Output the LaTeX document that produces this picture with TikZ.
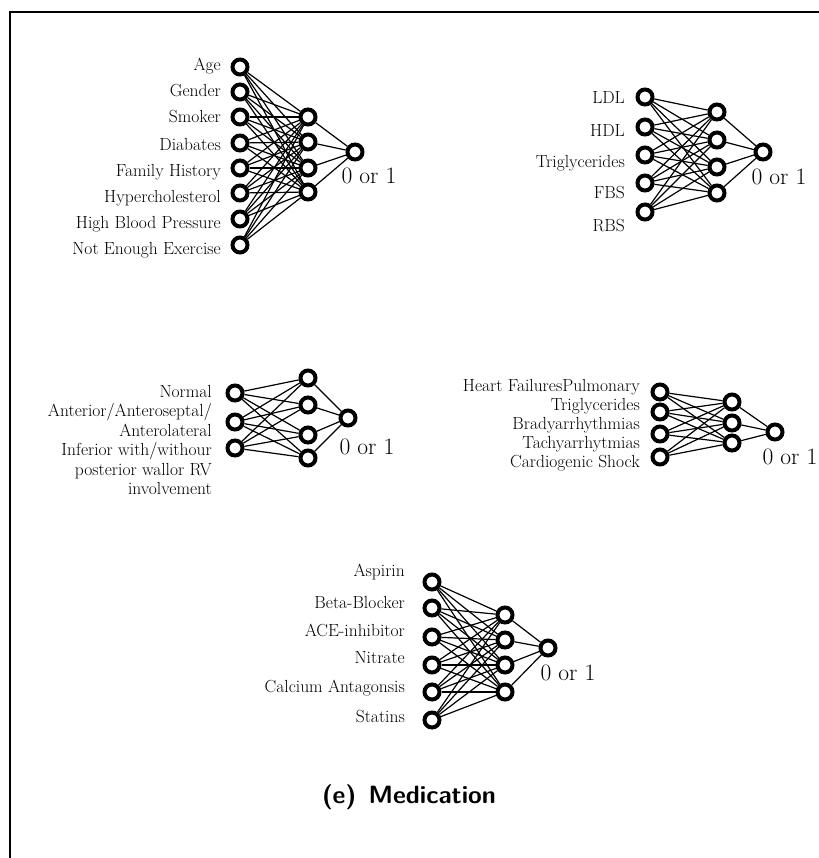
\documentclass[tikz,border=0pt]{standalone}
\usepackage{tikz}
\tikzset{
neuron/.style={circle, draw, line width=4bp, minimum size=15bp, inner sep=0pt, fill=white},
txt/.style={rectangle, draw=none, inner sep=0pt, anchor=east, align=right, font=\fontsize{17.5bp}{19.5bp}\selectfont},
outlbl/.style={rectangle, draw=none, inner sep=0pt, font=\fontsize{23.5bp}{26bp}\selectfont},
wire/.style={line width=1.2bp}
}

\begin{document}
\begin{tikzpicture}[x=1bp, y=-1bp]
\useasboundingbox (0,0) rectangle (819,858);
\draw [line width=2.5bp] (10,858) -- (10,12) -- (819,12);

% risk factors
\node [neuron] (RF1) at (240,67) {};
\node [neuron] (RF2) at (240,92) {};
\node [neuron] (RF3) at (240,117) {};
\node [neuron] (RF4) at (240,143) {};
\node [neuron] (RF5) at (240,168) {};
\node [neuron] (RF6) at (240,193) {};
\node [neuron] (RF7) at (240,219) {};
\node [neuron] (RF8) at (240,245) {};
\node [neuron] (RFH1) at (308,117) {};
\node [neuron] (RFH2) at (308,142) {};
\node [neuron] (RFH3) at (308,168) {};
\node [neuron] (RFH4) at (308,192) {};
\node [neuron] (RFO) at (355,152) {};
\node [txt] (RFL1) at (221,66) {Age};
\node [txt] (RFL2) at (221,91) {Gender};
\node [txt] (RFL3) at (221,117) {Smoker};
\node [txt] (RFL4) at (221,144) {Diabates};
\node [txt] (RFL5) at (221,172) {Family History};
\node [txt] (RFL6) at (221,198) {Hypercholesterol};
\node [txt] (RFL7) at (221,224) {High Blood Pressure};
\node [txt] (RFL8) at (221,250) {Not Enough Exercise};
\node [outlbl] (RFY) at (369,176) {0 or 1};
\foreach \i in {1,...,8} \foreach \j in {1,...,4} \draw [wire] (RF\i) -- (RFH\j);
\foreach \j in {1,...,4} \draw [wire] (RFH\j) -- (RFO);

% lab tests
\node [neuron] (LAB1) at (645,97) {};
\node [neuron] (LAB2) at (645,127) {};
\node [neuron] (LAB3) at (645,155) {};
\node [neuron] (LAB4) at (645,183) {};
\node [neuron] (LAB5) at (645,212) {};
\node [neuron] (LABH1) at (717,112) {};
\node [neuron] (LABH2) at (717,140) {};
\node [neuron] (LABH3) at (717,167) {};
\node [neuron] (LABH4) at (717,193) {};
\node [neuron] (LABO) at (763,152) {};
\node [txt] (LABL1) at (625,98) {LDL};
\node [txt] (LABL2) at (625,131) {HDL};
\node [txt] (LABL3) at (625,163) {Triglycerides};
\node [txt] (LABL4) at (625,193) {FBS};
\node [txt] (LABL5) at (625,226) {RBS};
\node [outlbl] (LABY) at (779,177) {0 or 1};
\foreach \i in {1,...,5} \foreach \j in {1,...,4} \draw [wire] (LAB\i) -- (LABH\j);
\foreach \j in {1,...,4} \draw [wire] (LABH\j) -- (LABO);

% ecg
\node [neuron] (ECG1) at (235,393) {};
\node [neuron] (ECG2) at (235,422) {};
\node [neuron] (ECG3) at (235,448) {};
\node [neuron] (ECGH1) at (308,378) {};
\node [neuron] (ECGH2) at (308,405) {};
\node [neuron] (ECGH3) at (308,435) {};
\node [neuron] (ECGH4) at (308,458) {};
\node [neuron] (ECGO) at (348,418) {};
\node [txt] (ECGL) at (212,440) {Normal\\Anterior/Anteroseptal/\\Anterolateral\\Inferior with/withour\\posterior wallor RV\\involvement};
\node [outlbl] (ECGY) at (367,447) {0 or 1};
\foreach \i in {1,...,3} \foreach \j in {1,...,4} \draw [wire] (ECG\i) -- (ECGH\j);
\foreach \j in {1,...,4} \draw [wire] (ECGH\j) -- (ECGO);

% complications
\node [neuron] (CMP1) at (660,392) {};
\node [neuron] (CMP2) at (660,412) {};
\node [neuron] (CMP3) at (660,434) {};
\node [neuron] (CMP4) at (660,457) {};
\node [neuron] (CMPH1) at (732,402) {};
\node [neuron] (CMPH2) at (732,423) {};
\node [neuron] (CMPH3) at (732,443) {};
\node [neuron] (CMPO) at (775,432) {};
\node [txt, font=\fontsize{17.5bp}{19bp}\selectfont] (CMPL) at (640,425) {Heart FailuresPulmonary\\Triglycerides\\Bradyarrhythmias\\Tachyarrhytmias\\Cardiogenic Shock};
\node [outlbl] (CMPY) at (790,457) {0 or 1};
\foreach \i in {1,...,4} \foreach \j in {1,...,3} \draw [wire] (CMP\i) -- (CMPH\j);
\foreach \j in {1,...,3} \draw [wire] (CMPH\j) -- (CMPO);

% medication
\node [neuron] (MED1) at (432,582) {};
\node [neuron] (MED2) at (432,608) {};
\node [neuron] (MED3) at (432,637) {};
\node [neuron] (MED4) at (432,665) {};
\node [neuron] (MED5) at (432,692) {};
\node [neuron] (MED6) at (432,720) {};
\node [neuron] (MEDH1) at (505,615) {};
\node [neuron] (MEDH2) at (505,640) {};
\node [neuron] (MEDH3) at (505,665) {};
\node [neuron] (MEDH4) at (505,692) {};
\node [neuron] (MEDO) at (548,648) {};
\node [txt] (MEDL1) at (405,572) {Aspirin};
\node [txt] (MEDL2) at (405,602) {Beta-Blocker};
\node [txt] (MEDL3) at (405,630) {ACE-inhibitor};
\node [txt] (MEDL4) at (405,658) {Nitrate};
\node [txt] (MEDL5) at (405,688) {Calcium Antagonsis};
\node [txt] (MEDL6) at (405,717) {Statins};
\node [outlbl] (MEDY) at (568,673) {0 or 1};
\foreach \i in {1,...,6} \foreach \j in {1,...,4} \draw [wire] (MED\i) -- (MEDH\j);
\foreach \j in {1,...,4} \draw [wire] (MEDH\j) -- (MEDO);

\node [rectangle, draw=none, font=\fontsize{25bp}{28bp}\sffamily\bfseries] (CAP) at (409,797) {(e)\enspace Medication};
\end{tikzpicture}
\end{document}
